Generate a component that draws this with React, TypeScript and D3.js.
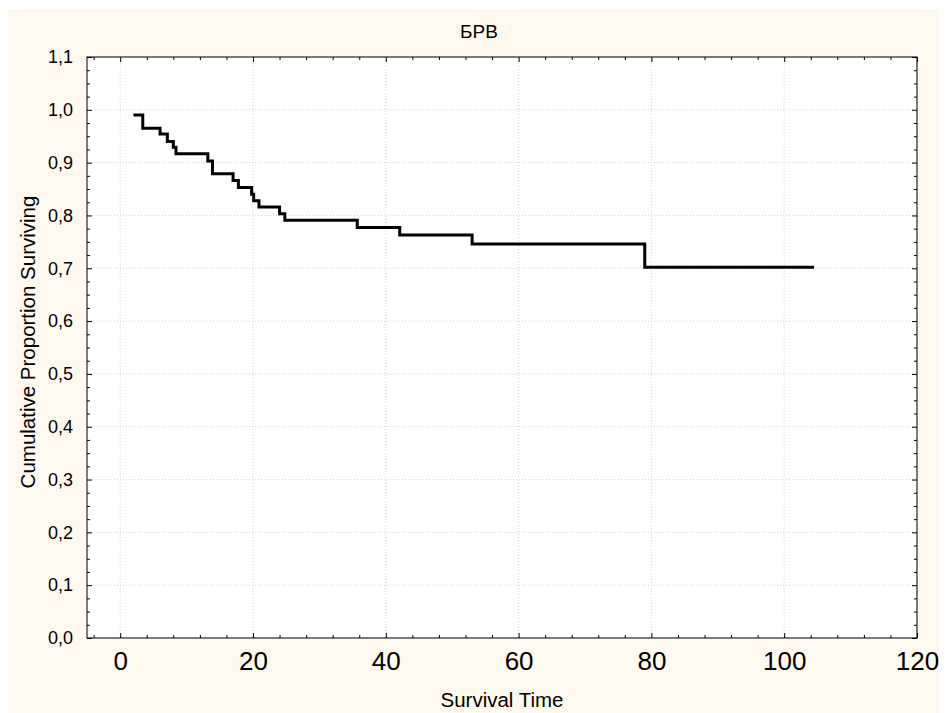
import React, { useEffect, useRef } from 'react';
import * as d3 from 'd3';

// Kaplan-Meier estimate (time, cumulative proportion)
const survivalTimes = [2.0, 3.4, 6.0, 7.1, 8.0, 8.4, 13.2, 13.9, 17.0, 17.8, 19.8, 20.1, 20.9, 24.0, 24.8, 35.7, 42.1, 53.0, 79.0, 104.5];
const survivalProportion = [0.99, 0.965, 0.954, 0.94, 0.929, 0.917, 0.903, 0.879, 0.866, 0.853, 0.84, 0.828, 0.816, 0.803, 0.791, 0.777, 0.763, 0.746, 0.702, 0.702];

const xTickValues = [0, 20, 40, 60, 80, 100, 120];
const yTickValues = [0, 0.1, 0.2, 0.3, 0.4, 0.5, 0.6, 0.7, 0.8, 0.9, 1.0, 1.1];
const yTickLabels = ['0,0', '0,1', '0,2', '0,3', '0,4', '0,5', '0,6', '0,7', '0,8', '0,9', '1,0', '1,1'];

const chartTitle = 'БРВ';
const xAxisTitle = 'Survival Time';
const yAxisTitle = 'Cumulative Proportion Surviving';

const width = 939;
const height = 705;
const margin = { top: 49, right: 30, bottom: 75, left: 79 };
const font = 'Arial, "Liberation Sans", sans-serif';

const App = () => {
  const ref = useRef(null);

  useEffect(() => {
    const innerWidth = width - margin.left - margin.right;
    const innerHeight = height - margin.top - margin.bottom;

    const svgRef = d3.select(ref.current);
    svgRef.selectAll('*').remove();

    const xScale = d3.scaleLinear().domain([-5, 120]).range([0, innerWidth]);
    const yScale = d3.scaleLinear().domain([0, 1.1]).range([innerHeight, 0]);

    // cream background
    svgRef.append('rect')
      .attr('x', 0).attr('y', 1)
      .attr('width', width).attr('height', height)
      .attr('fill', '#fef9ee');

    svgRef.append('text')
      .attr('x', 471).attr('y', 30)
      .attr('text-anchor', 'middle')
      .attr('font-family', font).attr('font-size', 19)
      .text(chartTitle);

    const g = svgRef.append('g')
      .attr('transform', `translate(${margin.left}, ${margin.top})`);

    g.append('rect')
      .attr('width', innerWidth).attr('height', innerHeight)
      .attr('fill', '#fff');

    // dotted grid at major ticks
    g.append('g').selectAll('line')
      .data(xTickValues)
      .join('line')
      .attr('x1', d => xScale(d)).attr('x2', d => xScale(d))
      .attr('y1', 0).attr('y2', innerHeight)
      .attr('stroke', '#d4d4d4').attr('stroke-dasharray', '1,2');

    g.append('g').selectAll('line')
      .data(yTickValues)
      .join('line')
      .attr('x1', 0).attr('x2', innerWidth)
      .attr('y1', d => yScale(d)).attr('y2', d => yScale(d))
      .attr('stroke', '#d4d4d4').attr('stroke-dasharray', '1,2');

    // ticks point inward on all four sides
    const xMinor = d3.range(-4, 121, 4).filter(v => v % 20 !== 0);
    const yMinor = d3.range(0, 45).map(i => i * 0.025).filter((_, i) => i % 4 !== 0);

    g.append('g')
      .attr('transform', `translate(0, ${innerHeight})`)
      .call(d3.axisBottom(xScale).tickValues(xMinor).tickSize(-3).tickFormat(() => '').tickSizeOuter(0));
    g.append('g')
      .attr('transform', `translate(0, ${innerHeight})`)
      .call(d3.axisBottom(xScale).tickValues(xTickValues).tickSize(-5).tickSizeOuter(0).tickPadding(14))
      .call(a => a.selectAll('text').attr('font-family', font).attr('font-size', 26).attr('fill', '#000'));
    g.append('g')
      .call(d3.axisTop(xScale).tickValues(xMinor).tickSize(-3).tickFormat(() => '').tickSizeOuter(0));
    g.append('g')
      .call(d3.axisTop(xScale).tickValues(xTickValues).tickSize(-5).tickFormat(() => '').tickSizeOuter(0));

    g.append('g')
      .call(d3.axisLeft(yScale).tickValues(yMinor).tickSize(-3).tickFormat(() => '').tickSizeOuter(0));
    g.append('g')
      .call(d3.axisLeft(yScale).tickValues(yTickValues).tickSize(-5).tickSizeOuter(0).tickPadding(14)
        .tickFormat((_, i) => yTickLabels[i]))
      .call(a => a.selectAll('text').attr('font-family', font).attr('font-size', 18).attr('fill', '#000'));
    g.append('g')
      .attr('transform', `translate(${innerWidth}, 0)`)
      .call(d3.axisRight(yScale).tickValues(yMinor).tickSize(-3).tickFormat(() => '').tickSizeOuter(0));
    g.append('g')
      .attr('transform', `translate(${innerWidth}, 0)`)
      .call(d3.axisRight(yScale).tickValues(yTickValues).tickSize(-5).tickFormat(() => '').tickSizeOuter(0));

    g.selectAll('.domain').remove();
    g.selectAll('.tick line').attr('stroke', '#000');

    g.append('rect')
      .attr('width', innerWidth).attr('height', innerHeight)
      .attr('fill', 'none').attr('stroke', '#000').attr('stroke-width', 1);

    // survival step curve
    const line = d3.line()
      .x((_, i) => xScale(survivalTimes[i]))
      .y(d => yScale(d))
      .curve(d3.curveStepAfter);

    g.append('path')
      .attr('d', line(survivalProportion))
      .attr('fill', 'none')
      .attr('stroke', '#000')
      .attr('stroke-width', 3);

    svgRef.append('text')
      .attr('x', margin.left + innerWidth / 2).attr('y', 699)
      .attr('text-anchor', 'middle')
      .attr('font-family', font).attr('font-size', 20.5)
      .text(xAxisTitle);

    svgRef.append('text')
      .attr('transform', `translate(27, 334) rotate(-90)`)
      .attr('text-anchor', 'middle')
      .attr('font-family', font).attr('font-size', 20.5)
      .text(yAxisTitle);
  }, []);

  return <svg ref={ref} width={width} height={height} style={{ display: 'block' }}></svg>;
};

export default App;
